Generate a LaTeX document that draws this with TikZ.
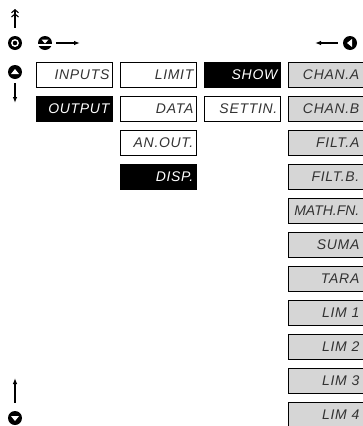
\documentclass[tikz,border=0pt]{standalone}
\usepackage{fontspec}
\setmainfont{Liberation Sans}
\usetikzlibrary{positioning,arrows.meta}
\tikzset{
	disp/.style={draw, minimum width=76pt, minimum height=25pt, text width=70pt,
		align=right, inner sep=0pt, line width=0.7pt, text=black!80,
		font=\fontsize{14}{14}\selectfont\itshape\addfontfeature{LetterSpace=5}},
	dispon/.style={disp, fill=black, text=white},
	dispgray/.style={disp, fill=black!16, text width=66pt},
	key/.style={circle, fill=black, minimum size=14pt, inner sep=0pt},
	keyarrow/.style={-{Latex[length=6pt,width=4.5pt]}, line width=1.1pt},
}

\begin{document}
\begin{tikzpicture}[x=1pt,y=-1pt]
\useasboundingbox (0,0) rectangle (362,426);

% Menu INPUTS
\node [disp, anchor=north west] (inputs) at (36,62) {INPUTS};
% Menu OUTPUT
\node [dispon, below = 8.3pt of inputs] (output) {OUTPUT};

% Column 2
\node [disp, right = 7.3pt of inputs] (limit) {LIMIT};
\node [disp, below = 8.3pt of limit] (data) {DATA};
\node [disp, below = 8.3pt of data] (anout) {AN.OUT.};
\node [dispon, below = 8.3pt of anout] (disp) {DISP.};

% Column 3
\node [dispon, right = 7.3pt of limit] (show) {SHOW};
\node [disp, below = 8.3pt of show] (settin) {SETTIN.};

% Column 4
\node [dispgray, right = 7.3pt of show] (chana) {CHAN.A};
\node [dispgray, below = 8.3pt of chana] (chanb) {CHAN.B};
\node [dispgray, below = 8.3pt of chanb] (filta) {FILT.A};
\node [dispgray, below = 8.3pt of filta] (filtb) {FILT.B.};
\node [dispgray, below = 8.3pt of filtb,
	font=\fontsize{14}{14}\selectfont\itshape] (mathfn) {MATH.FN.};
\node [dispgray, below = 8.3pt of mathfn] (suma) {SUMA};
\node [dispgray, below = 8.3pt of suma] (tara) {TARA};
\node [dispgray, below = 8.3pt of tara] (lima) {LIM 1};
\node [dispgray, below = 8.3pt of lima] (limb) {LIM 2};
\node [dispgray, below = 8.3pt of limb] (limc) {LIM 3};
\node [dispgray, below = 8.3pt of limc] (limd) {LIM 4};

% Keys
\node [key] (esc) at (15,43) {};
\draw [white, line width=1.4pt] (esc.center) circle (3.2pt);
\node [key] (enter) at (45,43) {};
\fill [white] ([yshift=3.5pt]enter.center) -- ([xshift=3.5pt,yshift=3.5pt]enter.center)
	-- ([yshift=-0.5pt]enter.center) -- ([xshift=-3.5pt,yshift=3.5pt]enter.center) -- cycle;
\draw [white, line width=1.1pt] ([xshift=-7pt,yshift=-2pt]enter.center) -- ([xshift=7pt,yshift=-2pt]enter.center);
\node [key] (up) at (15,72) {};
\fill [white] ([yshift=3pt]up.center) -- ([xshift=-4pt,yshift=-2pt]up.center)
	-- ([xshift=4pt,yshift=-2pt]up.center) -- cycle;
\node [key] (left) at (350,43) {};
\fill [white] ([xshift=-3pt]left.center) -- ([xshift=2pt,yshift=4pt]left.center)
	-- ([xshift=2pt,yshift=-4pt]left.center) -- cycle;
\node [key] (down) at (15,418) {};
\fill [white] ([yshift=-3pt]down.center) -- ([xshift=-4pt,yshift=2pt]down.center)
	-- ([xshift=4pt,yshift=2pt]down.center) -- cycle;

% Key arrows
\coordinate (home) at (15,9);
\coordinate (next) at (80,43);
\coordinate (back) at (315,43);
\coordinate (list) at (15,103);
\coordinate (prev) at (15,378);
\draw [-{Straight Barb[length=3pt,width=7pt] Straight Barb[length=3pt,width=7pt]}, line width=1.1pt]
	([yshift=8pt]esc.north) -- (home);
\draw [keyarrow] ([xshift=4pt]enter.east) -- (next);
\draw [keyarrow] ([xshift=-5pt]left.west) -- (back);
\draw [keyarrow] ([yshift=-4pt]up.south) -- (list);
\draw [keyarrow] ([yshift=8pt]down.north) -- (prev);

\end{tikzpicture}
\end{document}
